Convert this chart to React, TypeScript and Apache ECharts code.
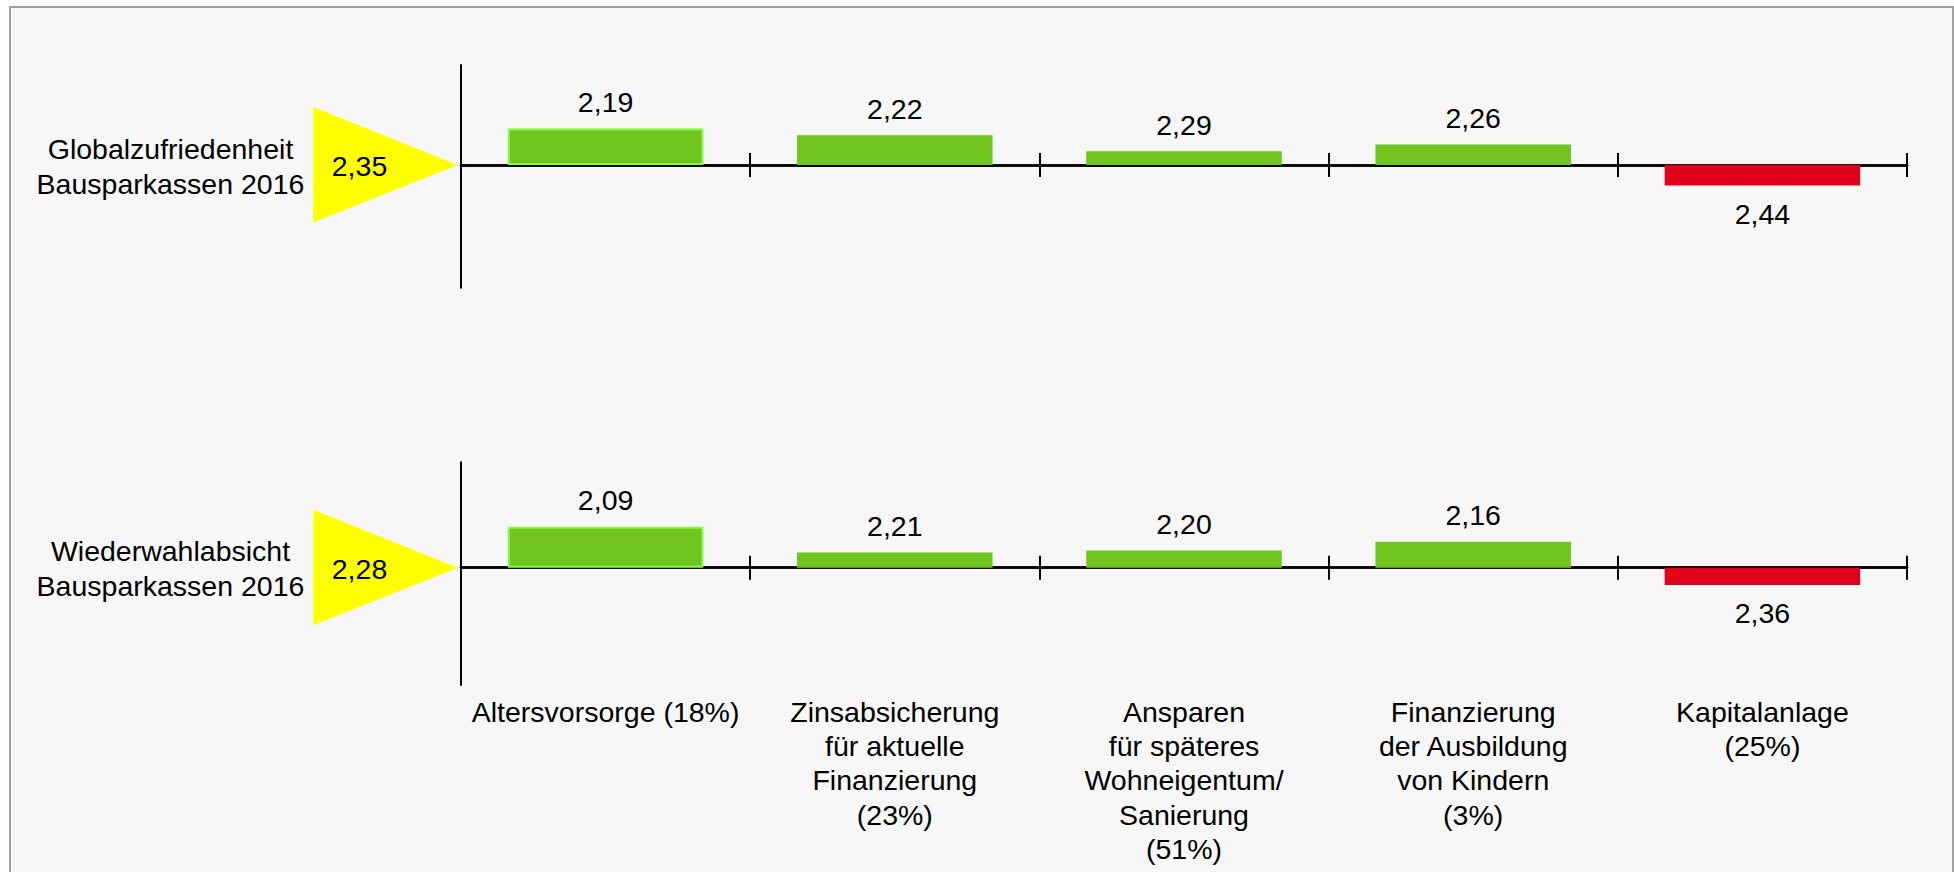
import React, { useEffect, useRef } from 'react';
import * as echarts from 'echarts';

const categories = [
  'Altersvorsorge (18%)',
  'Zinsabsicherung\nfür aktuelle\nFinanzierung\n(23%)',
  'Ansparen\nfür späteres\nWohneigentum/\nSanierung\n(51%)',
  'Finanzierung\nder Ausbildung\nvon Kindern\n(3%)',
  'Kapitalanlage\n(25%)',
];
const rowTitles = ['Globalzufriedenheit\nBausparkassen 2016', 'Wiederwahlabsicht\nBausparkassen 2016'];
const baselines = [2.35, 2.28];
const globalValues = [2.19, 2.22, 2.29, 2.26, 2.44];
const wiederValues = [2.09, 2.21, 2.2, 2.16, 2.36];

const FONT = '"Liberation Sans", Arial, sans-serif';
const GREEN = '#72c41f';
const RED = '#e2001a';
const fmt = (v: number) => v.toFixed(2).replace('.', ',');

const gridTops = [65, 462.3];
const gridHeight = 222.7;
const yRanges = [
  [-0.536, 0.437],
  [-0.543, 0.488],
];

export default function App() {
  const ref = useRef<HTMLDivElement>(null);
  useEffect(() => {
    if (!ref.current) return;
    const chart = echarts.init(ref.current, undefined, { renderer: 'svg' });
    const rows = [globalValues, wiederValues];

    const grids = gridTops.map((t) => ({
      left: 461,
      width: 1446,
      top: t,
      height: gridHeight,
      containLabel: false,
      outerBoundsMode: 'none',
    }));
    const xAxes: any[] = [];
    const yAxes: any[] = [];
    const series: any[] = [];
    rows.forEach((vals, g) => {
      const lineStyle = { color: '#000', width: 2.5 };
      xAxes.push({
        type: 'category',
        gridIndex: g,
        data: categories,
        position: 'bottom',
        axisLine: { show: true, onZero: true, onZeroAxisIndex: g, lineStyle },
        axisTick: { show: true, length: 12, lineStyle: { color: '#000', width: 2 } },
        axisLabel:
          g === 1
            ? {
                show: true,
                interval: 0,
                margin: 9.5,
                color: '#000',
                fontSize: 28.5,
                lineHeight: 34.3,
                fontFamily: FONT,
                align: 'center',
                hideOverlap: false,
              }
            : { show: false },
      });
      xAxes.push({
        type: 'category',
        gridIndex: g,
        data: categories,
        position: 'top',
        axisLine: { show: true, onZero: true, onZeroAxisIndex: g, lineStyle },
        axisTick: { show: true, length: 12, lineStyle: { color: '#000', width: 2 } },
        axisLabel: { show: false },
      });
      yAxes.push({
        type: 'value',
        gridIndex: g,
        min: yRanges[g][0],
        max: yRanges[g][1],
        axisLine: { show: true, onZero: false, lineStyle: { color: '#000', width: 2 } },
        axisTick: { show: false },
        axisLabel: { show: false },
        splitLine: { show: false },
      });
      const base = baselines[g];
      series.push({
        type: 'bar',
        xAxisIndex: 2 * g,
        yAxisIndex: g,
        barWidth: '67.6%',
        data: vals.map((v, i) => {
          const better = v <= base;
          return {
            value: +(base - v).toFixed(4),
            raw: v,
            itemStyle: {
              color: better ? GREEN : RED,
              borderColor: i === 0 ? '#80ff40' : undefined,
              borderWidth: i === 0 ? 2 : 0,
            },
            label: better ? { position: 'top', distance: 12 } : { position: 'bottom', distance: 14 },
          };
        }),
        label: {
          show: true,
          color: '#000',
          fontSize: 28.5,
          fontFamily: FONT,
          formatter: (p: any) => fmt(p.data.raw),
        },
      });
    });

    const bgRect = {
      type: 'rect',
      id: 'bg',
      z: -100,
      shape: { x: 10, y: 7, width: 1943, height: 900 },
      style: { fill: '#f7f7f7', stroke: '#a0a0a0', lineWidth: 2 },
    };

    chart.setOption({
      animation: false,
      backgroundColor: '#ffffff',
      grid: grids,
      xAxis: xAxes,
      yAxis: yAxes,
      series,
      graphic: [bgRect],
    });

    const extra: any[] = [bgRect];
    rows.forEach((_, g) => {
      const y0 = chart.convertToPixel({ yAxisIndex: g } as any, 0) as unknown as number;
      extra.push({
        type: 'polygon',
        id: 'tri' + g,
        shape: {
          points: [
            [313.3, y0 - 58],
            [313.3, y0 + 57.6],
            [457.7, y0],
          ],
        },
        style: { fill: '#ffff00' },
      });
      extra.push({
        type: 'text',
        id: 'triTxt' + g,
        x: 359.5,
        y: y0 + 1,
        style: {
          text: fmt(baselines[g]),
          fill: '#000',
          fontSize: 28.5,
          fontFamily: FONT,
          align: 'center',
          verticalAlign: 'middle',
        },
      });
      extra.push({
        type: 'text',
        id: 'title' + g,
        x: 170.5,
        y: y0 + 1,
        style: {
          text: rowTitles[g],
          fill: '#000',
          fontSize: 28.5,
          lineHeight: 35,
          fontFamily: FONT,
          align: 'center',
          verticalAlign: 'middle',
        },
      });
    });
    chart.setOption({ graphic: extra });

    return () => chart.dispose();
  }, []);
  return (
    <div
      ref={ref}
      style={{ position: 'fixed', left: 0, top: 0, width: 1954, height: 872 }}
    />
  );
}
